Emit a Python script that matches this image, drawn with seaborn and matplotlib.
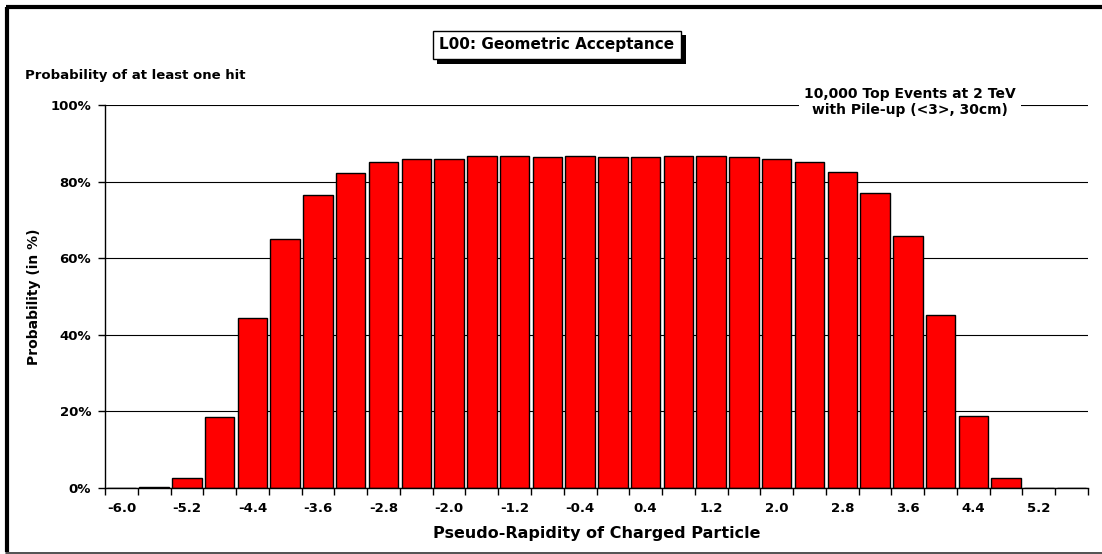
import matplotlib
matplotlib.use('Agg')
import matplotlib.pyplot as plt
import matplotlib.patheffects as pe
from matplotlib.lines import Line2D
import seaborn as sns

sns.set_style('white')
plt.rcParams['font.family'] = ['DejaVu Sans']
plt.rcParams['font.weight'] = 'bold'
plt.rcParams['text.color'] = 'black'
plt.rcParams['axes.labelcolor'] = 'black'
plt.rcParams['xtick.color'] = 'black'
plt.rcParams['ytick.color'] = 'black'

# pseudo-rapidity bins and probability of at least one hit (%)
eta = ['-6.0', '-5.6', '-5.2', '-4.8', '-4.4', '-4.0', '-3.6', '-3.2', '-2.8', '-2.4',
       '-2.0', '-1.6', '-1.2', '-0.8', '-0.4', '0.0', '0.4', '0.8', '1.2', '1.6',
       '2.0', '2.4', '2.8', '3.2', '3.6', '4.0', '4.4', '4.8', '5.2', '5.6']
prob = [0.0, 0.3, 2.5, 18.5, 44.5, 65.0, 76.5, 82.2, 85.0, 86.0,
        86.0, 86.6, 86.6, 86.5, 86.6, 86.3, 86.5, 86.6, 86.6, 86.5,
        85.8, 85.0, 82.6, 77.0, 65.7, 45.2, 18.7, 2.6, 0.0, 0.0]
y_ticks = [0, 20, 40, 60, 80, 100]

W, H = 1102, 554
fig = plt.figure(figsize=(W / 100, H / 100), dpi=100)
ax = fig.add_axes([105 / W, 1 - 488 / H, (1088 - 105) / W, (488 - 105) / H])

sns.barplot(x=eta, y=prob, order=eta, color='#ff0000', saturation=1,
            edgecolor='black', linewidth=1.0, width=0.9, ax=ax)

ax.set_xlim(-0.5, len(eta) - 0.5)
ax.set_ylim(0, 100)
ax.set_axisbelow(True)
ax.yaxis.grid(True, color='black', linewidth=0.8)
ax.xaxis.grid(False)
for s in ['top', 'right']:
    ax.spines[s].set_visible(False)
for s in ['left', 'bottom']:
    ax.spines[s].set_color('black')
    ax.spines[s].set_linewidth(1.0)

ax.set_yticks(y_ticks)
ax.set_yticklabels([f'{v}%' for v in y_ticks], fontsize=9.5, fontweight='bold')
ax.tick_params(axis='y', left=True, direction='out', length=5, width=1, color='black', pad=5)

# labels on every other category, tick marks on category boundaries
pos = list(range(0, len(eta), 2))
ax.set_xticks(pos)
ax.set_xticklabels([eta[i] for i in pos], fontsize=9.5, fontweight='bold')
ax.tick_params(axis='x', which='major', bottom=True, length=0, pad=10)
ax.set_xticks([i - 0.5 for i in range(len(eta) + 1)], minor=True)
ax.tick_params(axis='x', which='minor', bottom=True, direction='out', length=5, width=1,
               color='black')

ax.set_xlabel('Pseudo-Rapidity of Charged Particle', fontsize=11.5, fontweight='bold',
              labelpad=8)
ax.set_ylabel('Probability (in %)', fontsize=10, fontweight='bold', labelpad=7)

fig.text(25 / W, 1 - 76 / H, 'Probability of at least one hit', fontsize=9.5,
         fontweight='bold', ha='left', va='center')

ax.text(910 / W, 1 - 102 / H, '10,000 Top Events at 2 TeV\nwith Pile-up (<3>, 30cm)',
        transform=fig.transFigure, fontsize=10, fontweight='bold', ha='center', va='center',
        linespacing=1.25, zorder=10, clip_on=False,
        bbox=dict(facecolor='white', edgecolor='none', pad=4))

# title box with a drop shadow
t = fig.text(557 / W, 1 - 45 / H, 'L00: Geometric Acceptance', fontsize=11, fontweight='bold',
             ha='center', va='center',
             bbox=dict(facecolor='white', edgecolor='black', linewidth=1, pad=5))
t.get_bbox_patch().set_path_effects([
    pe.SimplePatchShadow(offset=(3, -3), shadow_rgbFace='black', alpha=1), pe.Normal()])

# chart frame
fig.add_artist(Line2D([7 / W, 7 / W], [1 - 7 / H, 1 - 552 / H], color='black', linewidth=3,
                      solid_capstyle='butt', transform=fig.transFigure))
fig.add_artist(Line2D([5.5 / W, 1], [1 - 7 / H, 1 - 7 / H], color='black', linewidth=3,
                      solid_capstyle='butt', transform=fig.transFigure))
fig.add_artist(Line2D([6 / W, 1], [1 - 552.5 / H, 1 - 552.5 / H], color='#333333',
                      linewidth=1.2, transform=fig.transFigure))

fig.savefig('out.png', dpi=100)
